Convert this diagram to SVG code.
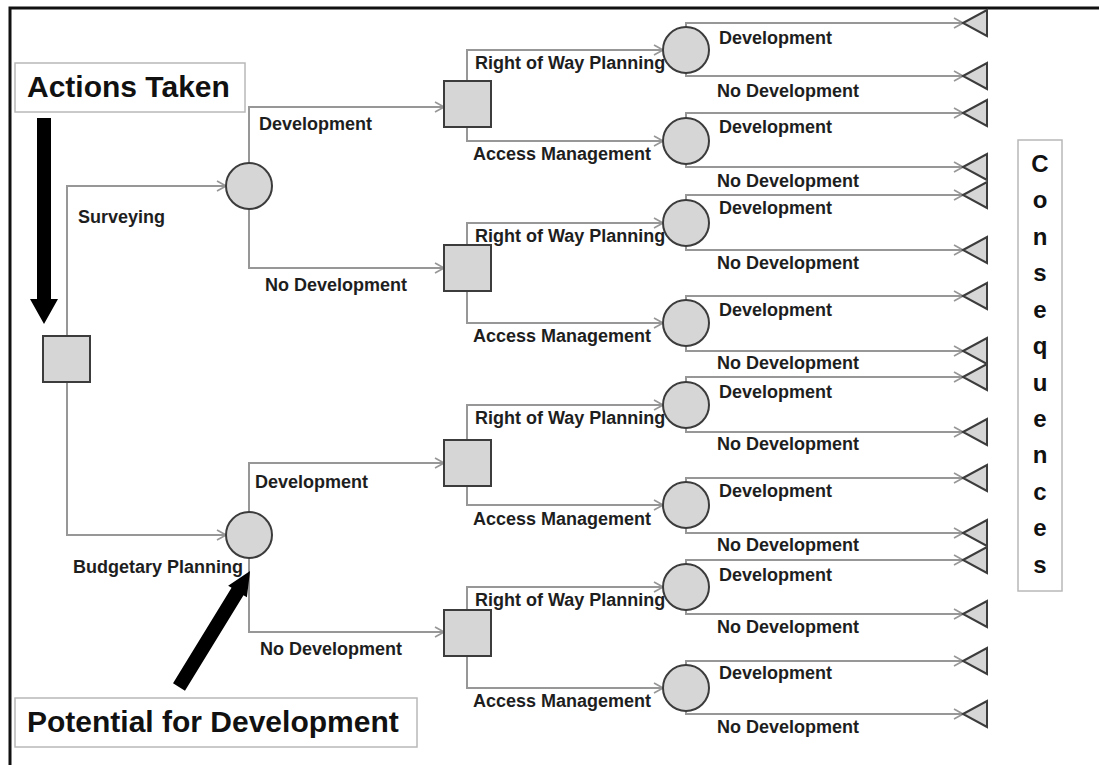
<svg xmlns="http://www.w3.org/2000/svg" width="1099" height="765" viewBox="0 0 1099 765">
<style>
.t{font-family:"Liberation Sans",Arial,sans-serif;font-weight:bold;font-size:18px;fill:#1e1e1e}
.big{font-size:30px;fill:#111}
.cq{font-size:24px;fill:#111;text-anchor:middle}
.dec{fill:#d6d6d6;stroke:#3c3c3c;stroke-width:2}
.box{fill:#fff;stroke:#b8b8b8;stroke-width:1.5}
.conn{fill:none;stroke:#979797;stroke-width:2;marker-end:url(#arr)}
</style>
<defs>
<marker id="arr" viewBox="0 0 10 12" refX="10" refY="6" markerWidth="10" markerHeight="12" markerUnits="userSpaceOnUse" orient="auto">
<path d="M1,1 L10,6 L1,11" fill="none" stroke="#979797" stroke-width="1.6"/>
</marker>
</defs>
<rect width="1099" height="765" fill="#fff"/>
<path d="M10,765 V8 H1099" fill="none" stroke="#111" stroke-width="3"/>

<g id="connectors">
<path class="conn" d="M67,336 V186 H226"/>
<path class="conn" d="M67,382 V535 H226"/>
<path class="conn" d="M249,163 V107 H444"/>
<path class="conn" d="M249,209 V268 H444"/>
<path class="conn" d="M249,512 V463 H444"/>
<path class="conn" d="M249,558 V632 H444"/>
<path class="conn" d="M467,81 V50 H663"/>
<path class="conn" d="M467,127 V141 H663"/>
<path class="conn" d="M467,245 V223 H663"/>
<path class="conn" d="M467,291 V323 H663"/>
<path class="conn" d="M467,440 V405 H663"/>
<path class="conn" d="M467,486 V505 H663"/>
<path class="conn" d="M467,610 V587 H663"/>
<path class="conn" d="M467,656 V688 H663"/>
<path class="conn" d="M686,27 V23 H963"/>
<path class="conn" d="M686,73 V76 H963"/>
<path class="conn" d="M686,118 V113 H963"/>
<path class="conn" d="M686,164 V167 H963"/>
<path class="conn" d="M686,200 V195 H963"/>
<path class="conn" d="M686,246 V250 H963"/>
<path class="conn" d="M686,300 V296 H963"/>
<path class="conn" d="M686,346 V351 H963"/>
<path class="conn" d="M686,382 V377 H963"/>
<path class="conn" d="M686,428 V432 H963"/>
<path class="conn" d="M686,482 V478 H963"/>
<path class="conn" d="M686,528 V533 H963"/>
<path class="conn" d="M686,564 V560 H963"/>
<path class="conn" d="M686,610 V614 H963"/>
<path class="conn" d="M686,665 V661 H963"/>
<path class="conn" d="M686,711 V714 H963"/>
</g>

<g id="branch-labels">
<text class="t" x="78" y="223">Surveying</text>
<text class="t" x="73" y="573">Budgetary Planning</text>
<text class="t" x="259" y="130">Development</text>
<text class="t" x="265" y="291">No Development</text>
<text class="t" x="255" y="488">Development</text>
<text class="t" x="260" y="655">No Development</text>
<text class="t" x="475" y="69">Right of Way Planning</text>
<text class="t" x="473" y="160">Access Management</text>
<text class="t" x="475" y="242">Right of Way Planning</text>
<text class="t" x="473" y="342">Access Management</text>
<text class="t" x="475" y="424">Right of Way Planning</text>
<text class="t" x="473" y="525">Access Management</text>
<text class="t" x="475" y="606">Right of Way Planning</text>
<text class="t" x="473" y="707">Access Management</text>
<text class="t" x="719" y="44">Development</text>
<text class="t" x="717" y="97">No Development</text>
<text class="t" x="719" y="133">Development</text>
<text class="t" x="717" y="187">No Development</text>
<text class="t" x="719" y="214">Development</text>
<text class="t" x="717" y="269">No Development</text>
<text class="t" x="719" y="316">Development</text>
<text class="t" x="717" y="369">No Development</text>
<text class="t" x="719" y="398">Development</text>
<text class="t" x="717" y="450">No Development</text>
<text class="t" x="719" y="497">Development</text>
<text class="t" x="717" y="551">No Development</text>
<text class="t" x="719" y="581">Development</text>
<text class="t" x="717" y="633">No Development</text>
<text class="t" x="719" y="679">Development</text>
<text class="t" x="717" y="733">No Development</text>
</g>

<g id="root-decision"><rect class="dec" x="43" y="336" width="47" height="46"/></g>
<g id="chance-surveying"><circle class="dec" cx="249" cy="186" r="23"/></g>
<g id="chance-budgetary"><circle class="dec" cx="249" cy="535" r="23"/></g>
<g id="decision-1"><rect class="dec" x="444" y="81" width="47" height="46"/></g>
<g id="decision-2"><rect class="dec" x="444" y="245" width="47" height="46"/></g>
<g id="decision-3"><rect class="dec" x="444" y="440" width="47" height="46"/></g>
<g id="decision-4"><rect class="dec" x="444" y="610" width="47" height="46"/></g>
<g id="chance-1"><circle class="dec" cx="686" cy="50" r="23"/></g>
<g id="chance-2"><circle class="dec" cx="686" cy="141" r="23"/></g>
<g id="chance-3"><circle class="dec" cx="686" cy="223" r="23"/></g>
<g id="chance-4"><circle class="dec" cx="686" cy="323" r="23"/></g>
<g id="chance-5"><circle class="dec" cx="686" cy="405" r="23"/></g>
<g id="chance-6"><circle class="dec" cx="686" cy="505" r="23"/></g>
<g id="chance-7"><circle class="dec" cx="686" cy="587" r="23"/></g>
<g id="chance-8"><circle class="dec" cx="686" cy="688" r="23"/></g>

<g id="terminals">
<polygon class="dec" points="963,23 987,10 987,36"/>
<polygon class="dec" points="963,76 987,63 987,89"/>
<polygon class="dec" points="963,113 987,100 987,126"/>
<polygon class="dec" points="963,167 987,154 987,180"/>
<polygon class="dec" points="963,195 987,182 987,208"/>
<polygon class="dec" points="963,250 987,237 987,263"/>
<polygon class="dec" points="963,296 987,283 987,309"/>
<polygon class="dec" points="963,351 987,338 987,364"/>
<polygon class="dec" points="963,377 987,364 987,390"/>
<polygon class="dec" points="963,432 987,419 987,445"/>
<polygon class="dec" points="963,478 987,465 987,491"/>
<polygon class="dec" points="963,533 987,520 987,546"/>
<polygon class="dec" points="963,560 987,547 987,573"/>
<polygon class="dec" points="963,614 987,601 987,627"/>
<polygon class="dec" points="963,661 987,648 987,674"/>
<polygon class="dec" points="963,714 987,701 987,727"/>
</g>

<g id="actions-taken">
<rect class="box" x="15" y="63" width="230" height="49"/>
<text class="t big" x="27" y="97">Actions Taken</text>
<polygon points="37,118 51,118 51,299 58,299 44,324 30,299 37,299" fill="#000"/>
</g>

<g id="potential-for-development">
<rect class="box" x="15" y="698" width="402" height="49"/>
<text class="t big" x="27" y="732">Potential for Development</text>
<polygon transform="translate(179,687) rotate(-58.5)" points="0,-7 112,-7 112,-11 136,0 112,11 112,7 0,7" fill="#000"/>
</g>

<g id="consequences">
<rect class="box" x="1018" y="140" width="44" height="451"/>
<text class="t cq" x="1040" y="172">C</text>
<text class="t cq" x="1040" y="208">o</text>
<text class="t cq" x="1040" y="245">n</text>
<text class="t cq" x="1040" y="281">s</text>
<text class="t cq" x="1040" y="318">e</text>
<text class="t cq" x="1040" y="354">q</text>
<text class="t cq" x="1040" y="391">u</text>
<text class="t cq" x="1040" y="427">e</text>
<text class="t cq" x="1040" y="463">n</text>
<text class="t cq" x="1040" y="500">c</text>
<text class="t cq" x="1040" y="536">e</text>
<text class="t cq" x="1040" y="573">s</text>
</g>
</svg>
